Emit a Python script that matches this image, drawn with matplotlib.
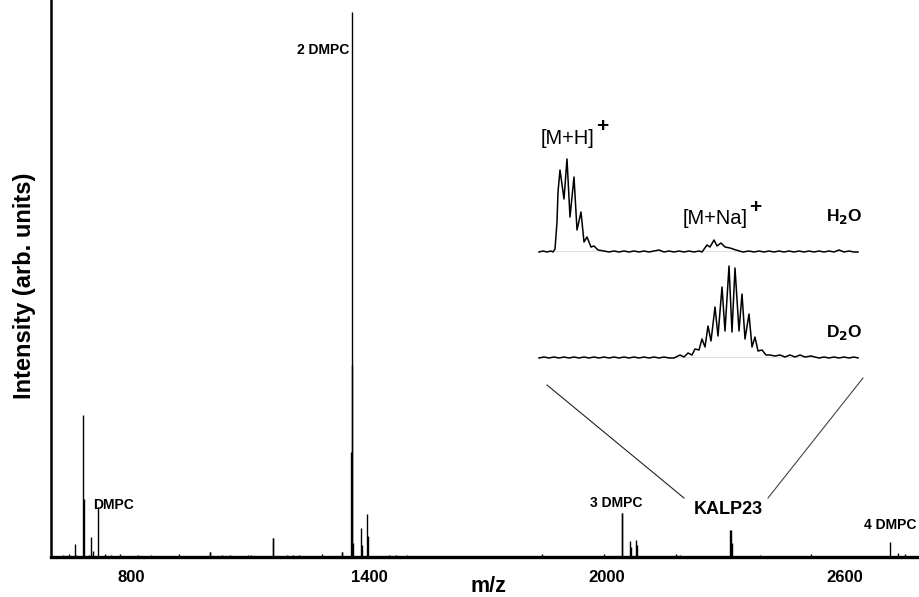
import matplotlib
matplotlib.use("Agg")
import matplotlib.pyplot as plt

plt.rcParams['font.family'] = ['Liberation Sans', 'DejaVu Sans']

W, H = 919, 597

# main spectrum, m/z and height
big_mz = [679, 682, 718.6, 701, 659, 704, 1358, 1357, 1356, 1361, 1380, 1382, 1395, 1397.5, 1158, 1159,
          2037, 2038, 2058, 2060, 2073, 2075, 2311, 2312, 2313, 2314, 2713]
big_i = [142, 58, 50, 20, 13, 6, 545, 192, 105, 14, 29, 12, 43, 21, 19, 19,
         44, 44, 16, 10, 17, 12, 27, 27, 14, 14, 15]
small_mz = [630, 644, 661, 695, 735, 749, 772, 817, 850, 921, 999, 1000, 1029, 1050, 1095, 1104, 1194, 1209,
            1224, 1283, 1331, 1332, 1451, 1468, 1497, 1560, 1620, 1700, 1770, 1837, 1900, 1993, 2175, 2184,
            2250, 2386, 2440, 2513, 2600, 2660, 2733, 2751]
small_i = [2, 3, 2, 2, 3, 2, 3, 2, 2, 3, 5, 5, 2, 2, 2, 2, 2, 2,
           2, 3, 5, 5, 2, 2, 2, 1, 1, 1, 1, 3, 1, 3, 3, 2,
           1, 2, 1, 3, 1, 1, 4, 3]

# inset traces, x is offset along the inset and y height above its baseline
h2o_x = [0, 4, 8, 12, 14, 16, 18, 19, 21, 25, 28, 31, 35, 38, 42, 45, 48, 52, 55, 59, 65, 70, 75, 80, 85, 90,
         95, 100, 105, 110, 115, 120, 125, 130, 135, 140, 145, 150, 155, 160, 163, 168, 171, 175, 178, 182, 186,
         191, 197, 204, 210, 215, 220, 225, 230, 235, 240, 245, 250, 255, 260, 265, 270, 275, 280, 285, 290,
         295, 300, 305, 310, 315, 319]
h2o_y = [0, 1, 0, 1, 0, 3, 30, 60, 82, 53, 93, 35, 75, 22, 40, 10, 15, 5, 6, 2, 1, 0, 1, 0, 1, 0,
         1, 0, 1, 0, 1, 2, 0, 1, 0, 1, 0, 1, 0, 1, 0, 7, 5, 12, 6, 9, 5,
         4, 2, 0, 1, 0, 1, 0, 1, 0, 1, 0, 1, 0, 1, 0, 1, 0, 1, 0, 1,
         0, 2, 0, 1, 0, 0]
d2o_x = [0, 5, 10, 15, 20, 25, 30, 35, 40, 45, 50, 55, 60, 65, 70, 75, 80, 85, 90, 95, 100, 105, 110, 115, 120,
         125, 130, 135, 141, 145, 149, 153, 156, 160, 163, 166, 169, 172, 176, 179, 183, 186, 190, 193, 196,
         200, 203, 206, 210, 213, 216, 219, 223, 227, 231, 236, 241, 246, 251, 256, 261, 266, 272, 280, 285,
         290, 295, 300, 305, 310, 315, 319]
d2o_y = [0, 1, 0, 1, 0, 1, 0, 1, 0, 1, 0, 1, 0, 1, 0, 1, 0, 1, 0, 1, 0, 1, 0, 1, 0,
         1, 0, 0, 3, 1, 5, 3, 9, 8, 19, 11, 32, 17, 51, 22, 71, 27, 92, 26, 90,
         27, 64, 19, 44, 11, 21, 7, 8, 3, 3, 2, 3, 1, 3, 1, 3, 1, 2, 0, 1,
         0, 1, 0, 1, 0, 1, 0]

fig = plt.figure(figsize=(W / 100, H / 100), dpi=100)
ax = fig.add_axes([51 / W, 40 / H, 1 - 51 / W, 557 / H])
ax.vlines(big_mz, 0, big_i, color='black', lw=1)
ax.vlines(small_mz, 0, small_i, color='black', lw=1)
ax.set_xlim(599, 2786)
ax.set_ylim(0, 557)
ax.set_xticks([800, 1400, 2000, 2600])
ax.tick_params(axis='x', length=0, pad=9, labelsize=12)
for t in ax.get_xticklabels():
    t.set_fontweight('bold')
ax.set_yticks([])
for s in ['top', 'right']:
    ax.spines[s].set_visible(False)
ax.spines['left'].set_linewidth(1.8)
ax.spines['bottom'].set_linewidth(2.4)


def px(x, y):
    return x / W, 1 - y / H


fig.text(*px(488, 587), 'm/z', ha='center', va='center', fontsize=15.5, fontweight='bold')
fig.text(*px(25, 286), 'Intensity (arb. units)', rotation=90, ha='center', va='center',
         fontsize=17, fontweight='bold')

for x, y, s in [(114, 505, 'DMPC'), (323, 50, '2 DMPC'), (616, 503, '3 DMPC'), (890, 525, '4 DMPC')]:
    fig.text(*px(x, y), s, ha='center', va='center', fontsize=10, fontweight='bold')
fig.text(*px(728, 510), 'KALP23', ha='center', va='center', fontsize=13, fontweight='bold')

# inset
for base, xs, ys in [(252, h2o_x, h2o_y), (358, d2o_x, d2o_y)]:
    inset = fig.add_axes([539 / W, (H - base) / H, 320 / W, 100 / H])
    inset.axis('off')
    inset.set_xlim(0, 320)
    inset.set_ylim(0, 100)
    inset.plot(xs, ys, color='black', lw=1.1, clip_on=False)
    inset.axhline(0, color='black', lw=0.9)

fig.text(*px(567, 138), '[M+H]', ha='center', va='center', fontsize=14.4)
fig.text(*px(602, 127), '+', ha='center', va='center', fontsize=15, fontweight='bold')
fig.text(*px(715, 218), '[M+Na]', ha='center', va='center', fontsize=14.4)
fig.text(*px(755, 207), '+', ha='center', va='center', fontsize=15, fontweight='bold')
fig.text(*px(844.5, 216), 'H$_\\mathbf{2}$O', ha='center', va='center', fontsize=12.5, fontweight='bold')
fig.text(*px(844.5, 332), 'D$_\\mathbf{2}$O', ha='center', va='center', fontsize=12.5, fontweight='bold')

# zoom lines down to the KALP23 peak
fig.add_artist(plt.Line2D([547 / W, 684 / W], [1 - 385 / H, 1 - 498 / H], color='#222222', lw=0.8))
fig.add_artist(plt.Line2D([863 / W, 768 / W], [1 - 378 / H, 1 - 498 / H], color='#444444', lw=0.8))

fig.savefig('out.png', dpi=100)
